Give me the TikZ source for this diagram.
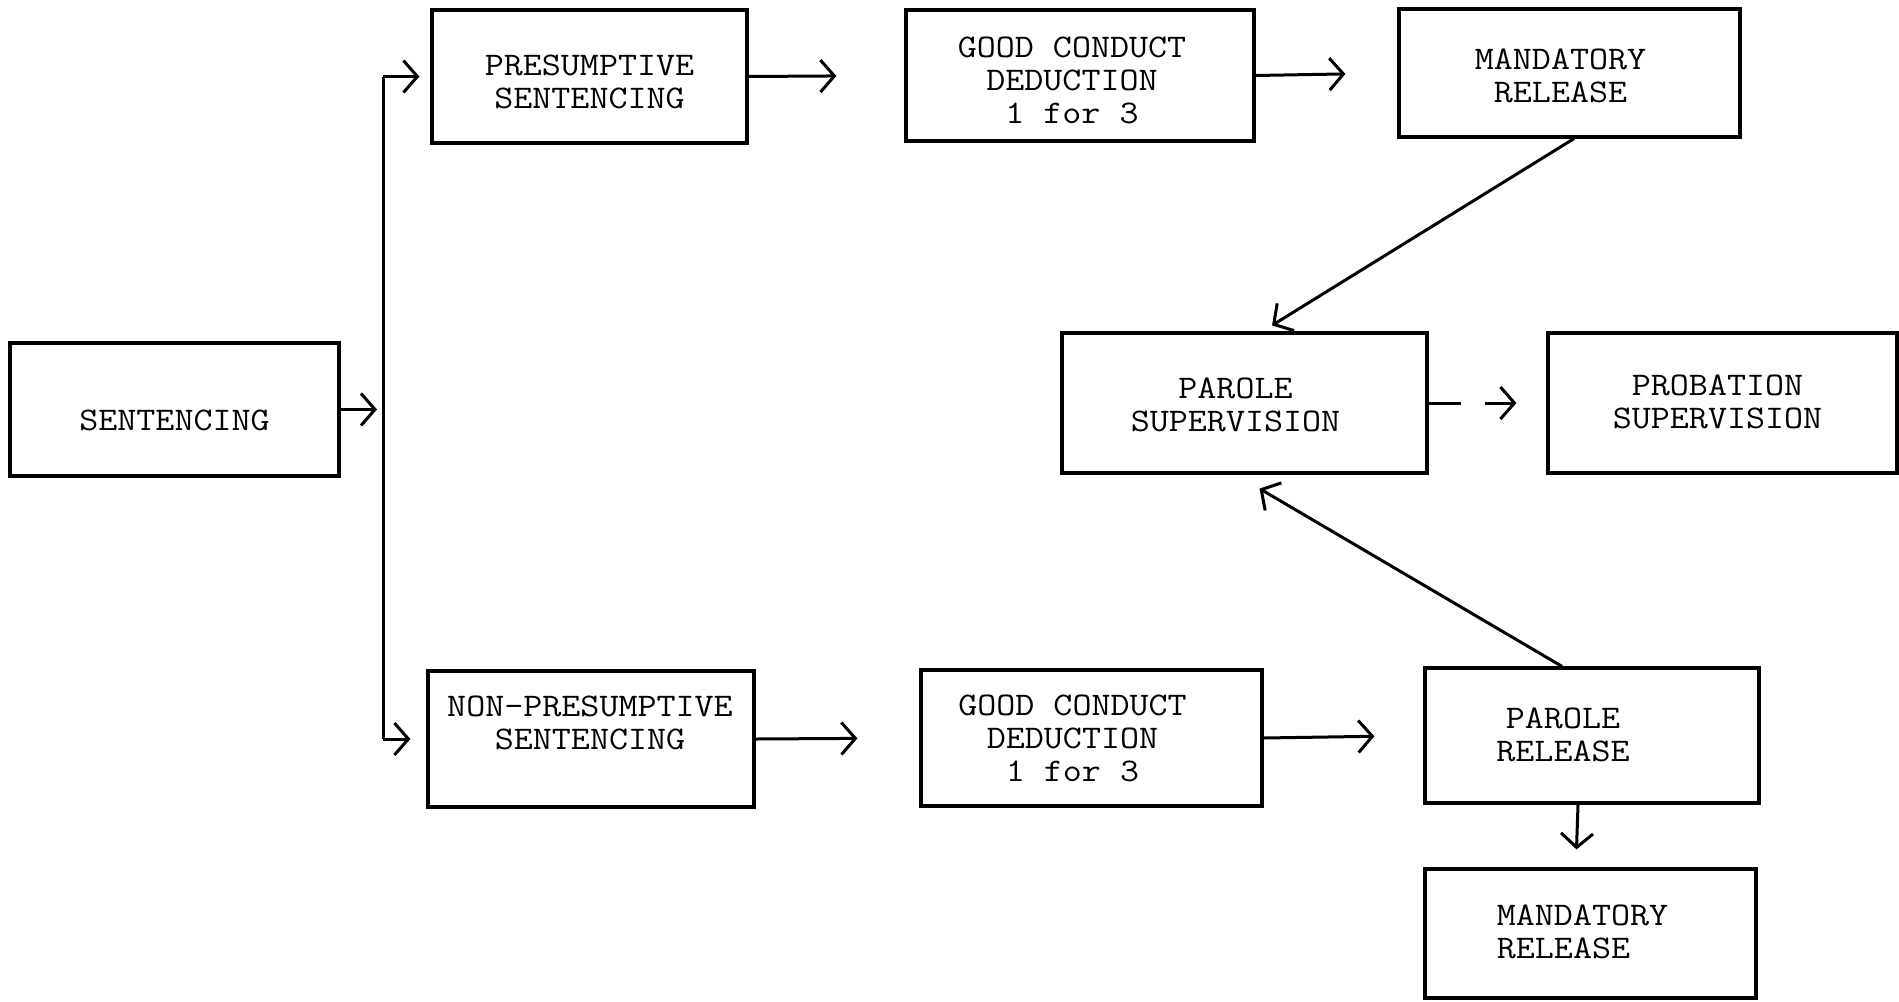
\documentclass[tikz,border=0pt]{standalone}
\usepackage{fontspec}
\setmonofont{Latin Modern Mono}[FakeStretch=1.12]
\usetikzlibrary{arrows.meta,calc}
\begin{document}
\begin{tikzpicture}[x=0.5pt,y=-0.5pt,
  box/.style={draw, line width=1.6pt, inner sep=0pt},
  txt/.style={font=\ttfamily\fontsize{16.5}{16.5}\selectfont, align=center, inner sep=0pt},
  conn/.style={line width=1.5pt},
  arr/.style={conn, -{Straight Barb[length=7pt,width=16pt]}}]
\useasboundingbox (0,0) rectangle (1899,1001);

% boxes
\node[box, minimum width=164.5pt, minimum height=66.5pt] (sent) at (174.5,409.5) {};
\node[box, minimum width=157.5pt, minimum height=66.5pt] (pres) at (589.5,76.5) {};
\node[box, minimum width=174pt, minimum height=65.5pt] (gct) at (1080,75.5) {};
\node[box, minimum width=170.5pt, minimum height=64pt] (mt) at (1569.5,73) {};
\node[box, minimum width=182.5pt, minimum height=70pt] (ps) at (1244.5,403) {};
\node[box, minimum width=174.5pt, minimum height=70pt] (pb) at (1722.5,403) {};
\node[box, minimum width=163pt, minimum height=68pt] (np) at (591,739) {};
\node[box, minimum width=170.5pt, minimum height=68pt] (gcb) at (1091.5,738) {};
\node[box, minimum width=167pt, minimum height=67.5pt] (pr) at (1592,735.5) {};
\node[box, minimum width=165.5pt, minimum height=64.5pt] (mb) at (1590.5,933.5) {};

% texts
\node[txt] (sentT) at ($(sent.center)+(0,11)$) {SENTENCING};
\node[txt] (presT) at ($(pres.center)+(0,5)$) {PRESUMPTIVE\\SENTENCING};
\node[txt] (gctT) at ($(gct.center)+(-8,5)$) {GOOD CONDUCT\\DEDUCTION\\1 for 3};
\node[txt] (mtT) at ($(mt.center)+(-9,3)$) {MANDATORY\\RELEASE};
\node[txt] (psT) at ($(ps.center)+(-9,2)$) {PAROLE\\SUPERVISION};
\node[txt] (pbT) at ($(pb.center)+(-5,-1)$) {PROBATION\\SUPERVISION};
\node[txt] (npT) at ($(np.center)+(-1,-16)$) {NON-PRESUMPTIVE\\SENTENCING};
\node[txt] (gcbT) at ($(gcb.center)+(-19,0)$) {GOOD CONDUCT\\DEDUCTION\\1 for 3};
\node[txt] (prT) at ($(pr.center)+(-29,-1)$) {PAROLE\\RELEASE};
\node[txt, align=left] (mbT) at ($(mb.center)+(-8,-2)$) {MANDATORY\\RELEASE};

% junction
\coordinate (jin) at (377,409.5);
\coordinate (jt) at (383,76.5);
\coordinate (jb) at (383,739);

\draw[arr] (sent.east) -- (jin);
\draw[conn] (jt) -- (jb);
\draw[arr, shorten >=5.5pt] (jt) -- (pres.west);
\draw[arr, shorten >=8pt] (jb) -- (np.west);

% top row
\draw[arr, shorten >=34pt] (pres.east) -- (gct.west);
\draw[arr, shorten >=26pt] (gct.east) -- (mt.west);
\draw[arr] ($(mt.south)+(4.5,0)$) -- ($(ps.north)+(27.5,-6)$);

% middle
\draw[arr, dash pattern=on 16pt off 12pt on 200pt, shorten >=15pt] (ps.east) -- (pb.west);

% bottom row
\draw[arr, shorten >=31pt] (np.east) -- (gcb.west);
\draw[arr, shorten >=24.5pt] (gcb.east) -- (pr.west);
\draw[arr] ($(pr.north)+(-30,0)$) -- ($(ps.south)+(15,14)$);
\draw[arr] ($(pr.south)+(-14,0)$) -- ($(mb.north)+(-14,-18)$);
\end{tikzpicture}
\end{document}
